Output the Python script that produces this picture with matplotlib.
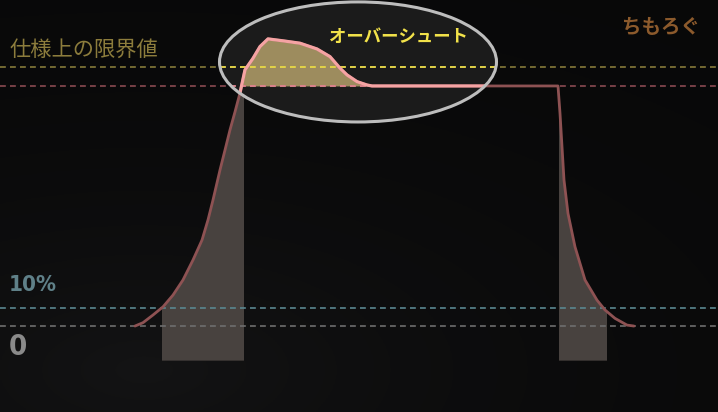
import numpy as np
import matplotlib
matplotlib.use("Agg")
import matplotlib.pyplot as plt
from matplotlib.patches import Ellipse, Rectangle

plt.rcParams['font.family'] = ['Noto Sans CJK JP', 'DejaVu Sans']

# signal (time in arbitrary units, amplitude normalised: 0 = low, 1 = high)
t = [135, 143, 153, 163, 173, 183, 193, 202, 208, 213, 220, 225, 230, 235, 240,
     245, 253, 260, 268, 283, 300, 317, 330, 340, 347, 357, 367, 372,
     558, 560, 562, 564, 568, 575, 585, 597, 605, 615, 627, 634]
amp = [0.0, 0.014, 0.046, 0.08, 0.129, 0.192, 0.275, 0.358, 0.442, 0.525, 0.65,
       0.733, 0.817, 0.892, 0.971,
       1.067, 1.115, 1.164, 1.196, 1.188, 1.178, 1.154, 1.122, 1.074, 1.046, 1.018, 1.004, 1.0,
       1.0, 0.886, 0.747, 0.608, 0.469, 0.33, 0.192, 0.108, 0.067, 0.032, 0.004, 0.0]

# reference levels
lvl_limit = 1.079
lvl_high = 1.0
lvl_10 = 0.075
lvl_zero = 0.0

# rise / fall time windows
rise = (162, 243)
fall = (559, 606)
win_bottom = -0.142

t = np.array(t)
amp = np.array(amp)

fig = plt.figure(figsize=(7.18, 4.12), dpi=100)
ax = fig.add_axes([0, 0, 1, 1])
ax.set_xlim(0, 718)
ax.set_ylim(-0.358, 1.358)
ax.axis('off')

# background
yy, xx = np.mgrid[0:1:200j, 0:1:300j]
d = np.sqrt((xx - 0.2) ** 2 + (yy - 0.1) ** 2 * 1.5)
bg = 0.028 + 0.05 * np.exp(-d * 1.8)
bg = np.dstack([bg, bg, bg * 1.05])
ax.imshow(bg, extent=(0, 718, -0.358, 1.358), aspect='auto', origin='lower', zorder=0)

# rise / fall windows
for (x0, x1) in (rise, fall):
    f = ax.fill_between(t, amp, win_bottom, color='#48423f', lw=0, zorder=2)
    clip = Rectangle((x0, win_bottom), x1 - x0, 2, transform=ax.transData)
    f.set_clip_path(clip)

# highlight ellipse
ell_c = (358, 1.1)
ell_w, ell_h = 277, 0.5
ax.add_patch(Ellipse(ell_c, ell_w, ell_h, facecolor='#1b1b1b', edgecolor='none', zorder=2.5))

# overshoot area
ax.fill_between(t, amp, lvl_high, where=(amp > lvl_high) & (t < 400), interpolate=True,
                color='#9d8c5e', lw=0, zorder=3)

dash = dict(dashes=(3.5, 2.5), lw=1.2)
ax.axhline(lvl_limit, color='#857a3a', zorder=4, **dash)
ax.axhline(lvl_high, color='#8a4a52', zorder=4, **dash)
ax.axhline(lvl_10, color='#5a8790', zorder=4, **dash)
ax.axhline(lvl_zero, color='#6e6e6e', zorder=4, **dash)

ax.plot(t, amp, color='#8e5253', lw=2.0, solid_capstyle='round', solid_joinstyle='round', zorder=5)

# brighter versions inside the ellipse
clip_ell = Ellipse(ell_c, ell_w, ell_h, transform=ax.transData)
l1 = ax.axhline(lvl_limit, color='#f2e24a', zorder=6, **dash)
l2 = ax.axhline(lvl_high, color='#e88c95', zorder=6, **dash)
l3, = ax.plot(t, amp, color='#f5a3a3', lw=2.3, solid_joinstyle='round', zorder=6.5)
for ln in (l1, l2, l3):
    ln.set_clip_path(clip_ell)

ax.add_patch(Ellipse(ell_c, ell_w, ell_h, facecolor='none', edgecolor='#bdbdbd', lw=2.2, zorder=7))

# texts
ax.text(10, 1.15, '仕様上の限界値', color='#8c7c3c', fontsize=15.3, va='center', ha='left', zorder=8)
ax.text(398, 1.204, 'オーバーシュート', color='#f2e24a', fontsize=12.5, fontweight='bold',
        va='center', ha='center', zorder=8)
ax.text(661, 1.242, 'ちもろぐ', color='#8c5a2c', fontsize=14, fontweight='bold',
        va='center', ha='center', zorder=8)
ax.text(9, 0.171, '10%', color='#5f8088', fontsize=16, fontweight='bold',
        family='DejaVu Sans', fontstretch='condensed', va='center', ha='left', zorder=8)
ax.text(9, -0.0875, '0', color='#8a8a8a', fontsize=21, fontweight='bold',
        family='DejaVu Sans', fontstretch='condensed', va='center', ha='left', zorder=8)

fig.savefig('out.png', dpi=100)
